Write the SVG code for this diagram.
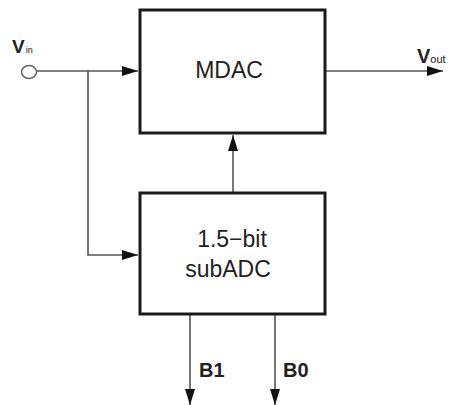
<svg xmlns="http://www.w3.org/2000/svg" width="455" height="405" viewBox="0 0 455 405">
<style>
.box{fill:#fff;stroke:#1a1a1a;stroke-width:3}
.wire{fill:none;stroke:#555;stroke-width:1.6}
.lbl{font-family:"Liberation Sans",Arial,sans-serif;fill:#222}
.b{font-weight:bold}
</style>
<defs>
<marker id="ah" markerWidth="16" markerHeight="10" refX="16" refY="5" orient="auto" markerUnits="userSpaceOnUse">
<path d="M0,0 L16,5 L0,10 Z" fill="#111"/>
</marker>
</defs>
<rect width="455" height="405" fill="#fff"/>
<g id="connectors">
<line class="wire" x1="37" y1="71" x2="138" y2="71" marker-end="url(#ah)"/>
<polyline class="wire" points="88,71 88,255 138,255" marker-end="url(#ah)"/>
<line class="wire" x1="233" y1="193" x2="233" y2="135" marker-end="url(#ah)"/>
<line class="wire" x1="325" y1="71" x2="443" y2="71" marker-end="url(#ah)"/>
<line class="wire" x1="190" y1="315" x2="190" y2="405" marker-end="url(#ah)"/>
<line class="wire" x1="275" y1="315" x2="275" y2="405" marker-end="url(#ah)"/>
</g>
<g id="vin">
<ellipse cx="29" cy="72" rx="7.5" ry="6.5" fill="#fff" stroke="#666" stroke-width="1.5"/>
<text class="lbl b" x="12" y="53" font-size="19">V<tspan font-size="9" dx="1" font-weight="normal">in</tspan></text>
</g>
<g id="vout">
<text class="lbl b" x="417" y="63" font-size="20">V<tspan font-size="11" dx="0" font-weight="normal">out</tspan></text>
</g>
<g id="mdac">
<rect class="box" x="140" y="10" width="185" height="123"/>
<text class="lbl" x="229" y="78" font-size="23" text-anchor="middle">MDAC</text>
</g>
<g id="subadc">
<rect class="box" x="140" y="193" width="185" height="121"/>
<text class="lbl" x="232" y="247" font-size="23" text-anchor="middle">1.5−bit</text>
<text class="lbl" x="228" y="277" font-size="23" text-anchor="middle">subADC</text>
</g>
<g id="b1">
<text class="lbl b" x="199" y="377" font-size="20">B1</text>
</g>
<g id="b0">
<text class="lbl b" x="283" y="377" font-size="20">B0</text>
</g>
</svg>
